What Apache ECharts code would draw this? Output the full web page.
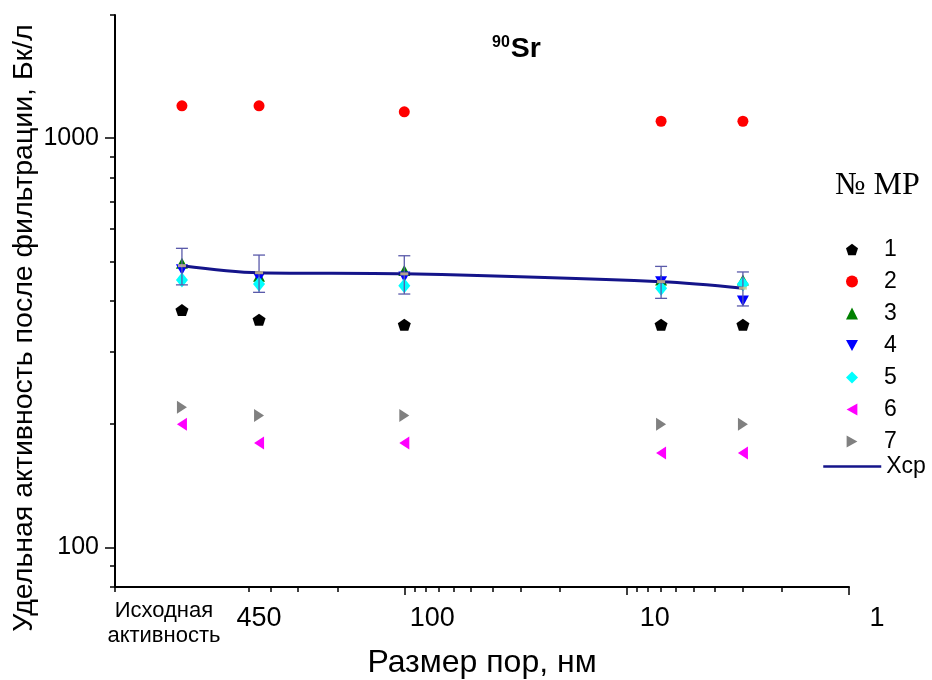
<!DOCTYPE html>
<html>
<head>
<meta charset="utf-8">
<script src="https://cdn.jsdelivr.net/npm/echarts@6/dist/echarts.min.js"></script>
<style>html,body{margin:0;padding:0;background:#fff}#c{width:932px;height:680px}</style>
</head>
<body>
<div id="c"></div>
<script>
// Pore sizes (nm); 1000 is the position of "initial activity"
const poreSizes = [1000, 450, 100, 7, 3];
const mp1 = [380, 360, 350, 350, 350];
const mp2 = [1200, 1200, 1160, 1100, 1100];
const mp3 = [495, 460, 475, 450, 450];
const mp4 = [477, 455, 458, 446, 400];
const mp5 = [450, 440, 436, 430, 440];
const mp6 = [200, 180, 180, 170, 170];
const mp7 = [220, 210, 210, 200, 200];
const meanValues = [488, 469, 466, 446, 430];
const meanErrors = [50, 49, 50, 40, 41];

const seriesNames = ['1', '2', '3', '4', '5', '6', '7'];
const meanName = 'Хср';

const initialLabelValue = [1000];
const xLabelValues = [450, 100, 10, 1];
const xMajorTicks = [100, 10, 1];
const xMinorTicks = [2000, 500, 400, 300, 200, 90, 80, 70, 60, 50, 40, 30, 20, 9, 8, 7, 6, 5, 4, 3, 2];
const yLabelValues = [100, 1000];
const yMajorTicks = [100, 1000];
const yMinorTicks = [80, 90, 200, 300, 400, 500, 600, 700, 800, 900, 2000];

const FONT = 'Liberation Sans';
const symbols = [
  {symbol: 'path://M50,0 L97.6,34.5 L79.4,90.5 L20.6,90.5 L2.4,34.5 Z', size: [13, 12], color: '#000000'},
  {symbol: 'circle', size: 11, color: '#ff0000'},
  {symbol: 'triangle', size: [12, 11], color: '#008000'},
  {symbol: 'path://M0,0 L10,0 L5,9 Z', size: [12, 11], color: '#0000ff'},
  {symbol: 'diamond', size: [12, 15], color: '#00ffff'},
  {symbol: 'path://M9,0 L9,10 L0,5 Z', size: [10, 13], color: '#ff00ff'},
  {symbol: 'path://M0,0 L0,10 L9,5 Z', size: [10, 13], color: '#808080'}
];
const allSeries = [mp1, mp2, mp3, mp4, mp5, mp6, mp7];

const chart = echarts.init(document.getElementById('c'), null, {renderer: 'canvas'});

const xLabelFmt = (v) => {
  const r = Math.round(v);
  if (r === 450) return '{c|450}';
  return '{r|' + r + '}';
};

const baseX = {
  type: 'log', logBase: 10, inverse: true, min: 1, max: 2000, gridIndex: 0, position: 'bottom', offset: 0,
  splitLine: {show: false}, minorTick: {show: false}, minorSplitLine: {show: false}
};
const baseY = {
  type: 'log', logBase: 10, min: 80, max: 2000, gridIndex: 0, position: 'left', offset: 0,
  splitLine: {show: false}, minorTick: {show: false}, minorSplitLine: {show: false}
};

const series = allSeries.map((vals, i) => ({
  name: seriesNames[i],
  type: 'scatter',
  xAxisIndex: 0, yAxisIndex: 0,
  symbol: symbols[i].symbol,
  symbolSize: symbols[i].size,
  itemStyle: {color: symbols[i].color, opacity: 1},
  z: 2,
  data: poreSizes.map((p, j) => [p, vals[j]])
}));

series.push({
  name: 'err',
  type: 'custom',
  xAxisIndex: 0, yAxisIndex: 0,
  z: 3,
  encode: {x: 0, y: 1},
  data: poreSizes.map((p, j) => [p, meanValues[j], meanErrors[j]]),
  renderItem: (params, api) => {
    const x = api.value(0), m = api.value(1), e = api.value(2);
    const t = api.coord([x, m + e]);
    const b = api.coord([x, m - e]);
    const hw = 6;
    const st = {stroke: '#5a5aaa', lineWidth: 1.3};
    return {type: 'group', children: [
      {type: 'line', shape: {x1: t[0], y1: t[1], x2: b[0], y2: b[1]}, style: st},
      {type: 'line', shape: {x1: t[0] - hw, y1: t[1], x2: t[0] + hw, y2: t[1]}, style: st},
      {type: 'line', shape: {x1: b[0] - hw, y1: b[1], x2: b[0] + hw, y2: b[1]}, style: st}
    ]};
  }
});

series.push({
  name: meanName,
  type: 'line',
  xAxisIndex: 0, yAxisIndex: 0,
  z: 4,
  smooth: 0.35,
  symbol: 'none',
  lineStyle: {color: '#14148a', width: 3},
  itemStyle: {color: '#14148a'},
  data: poreSizes.map((p, j) => [p, meanValues[j]])
});

series.push({
  name: 'meanMark',
  type: 'scatter',
  xAxisIndex: 0, yAxisIndex: 0,
  z: 5,
  symbol: 'rect',
  symbolSize: [8, 3],
  itemStyle: {color: '#d8c88c'},
  data: poreSizes.map((p, j) => [p, meanValues[j]])
});

const option = {
  animation: false,
  backgroundColor: '#ffffff',
  textStyle: {fontFamily: FONT},
  title: [
    {
      text: '{sup|90}{main|Sr}',
      left: 487, top: 30,
      textStyle: {
        rich: {
          sup: {fontFamily: FONT, fontSize: 16, fontWeight: 'bold', color: '#000', padding: [0, 1, 13, 0]},
          main: {fontFamily: FONT, fontSize: 28.5, fontWeight: 'bold', color: '#000'}
        }
      }
    },
    {
      text: '№ МР',
      left: 830, top: 165,
      textStyle: {fontFamily: 'Liberation Serif', fontSize: 32, fontWeight: 'normal', color: '#000'}
    }
  ],
  legend: [
    {
      data: seriesNames,
      orient: 'vertical',
      left: 846, top: 238, padding: 0,
      itemWidth: 12, itemHeight: 12, itemGap: 9,
      selectedMode: false,
      textStyle: {fontFamily: FONT, fontSize: 23, lineHeight: 22, color: '#000', padding: [0, 0, 0, 21]}
    },
    {
      data: [meanName],
      orient: 'vertical',
      left: 822, top: 455, padding: 0,
      itemWidth: 58, itemHeight: 12,
      selectedMode: false,
      itemStyle: {opacity: 0},
      lineStyle: {width: 2.5},
      textStyle: {fontFamily: FONT, fontSize: 23, lineHeight: 22, color: '#000'}
    }
  ],
  grid: {left: 115, right: 83, top: 15, bottom: 93, containLabel: false, outerBoundsMode: 'none'},
  xAxis: [
    Object.assign({}, baseX, {
      name: 'Размер пор, нм',
      nameLocation: 'middle',
      nameGap: 60,
      nameMoveOverlap: false,
      nameTextStyle: {fontFamily: FONT, fontSize: 32, color: '#000'},
      axisLine: {show: true, onZero: false, lineStyle: {color: '#000', width: 2}},
      axisTick: {show: true, inside: false, length: 8, customValues: xMajorTicks, lineStyle: {color: '#000', width: 1.5}},
      axisLabel: {
        show: true, margin: 11, customValues: xLabelValues, formatter: xLabelFmt, hideOverlap: false,
        rich: {
          c: {fontFamily: FONT, fontSize: 27, lineHeight: 27, color: '#000', padding: [15, 0, 0, 0]},
          r: {fontFamily: FONT, fontSize: 27, lineHeight: 27, color: '#000', padding: [15, 0, 0, 56]}
        }
      }
    }),
    Object.assign({}, baseX, {
      axisLine: {show: false},
      axisTick: {show: true, inside: false, length: 5, customValues: xMinorTicks, lineStyle: {color: '#000', width: 1.5}},
      axisLabel: {
        show: true, margin: 11, customValues: initialLabelValue, hideOverlap: false,
        formatter: () => '{s|Исходная}\n{s|активность}',
        rich: {
          s: {fontFamily: FONT, fontSize: 22, lineHeight: 25, color: '#000', padding: [0, 36, 0, 0]}
        }
      }
    })
  ],
  yAxis: [
    Object.assign({}, baseY, {
      name: 'Удельная активность после фильтрации, Бк/л',
      nameLocation: 'middle',
      nameGap: 76,
      nameMoveOverlap: false,
      nameTextStyle: {fontFamily: FONT, fontSize: 28.5, color: '#000', padding: [0, 54, 0, 0]},
      axisLine: {show: true, onZero: false, lineStyle: {color: '#000', width: 2}},
      axisTick: {show: true, inside: false, length: 10, customValues: yMajorTicks, lineStyle: {color: '#000', width: 1.5}},
      axisLabel: {show: true, margin: 16, customValues: yLabelValues, fontFamily: FONT, fontSize: 25, color: '#000',
        formatter: (v) => String(Math.round(v))}
    }),
    Object.assign({}, baseY, {
      axisLine: {show: false},
      axisTick: {show: true, inside: false, length: 5, customValues: yMinorTicks, lineStyle: {color: '#000', width: 1.5}},
      axisLabel: {show: false}
    })
  ],
  series: series
};

chart.setOption(option);
</script>
</body>
</html>
